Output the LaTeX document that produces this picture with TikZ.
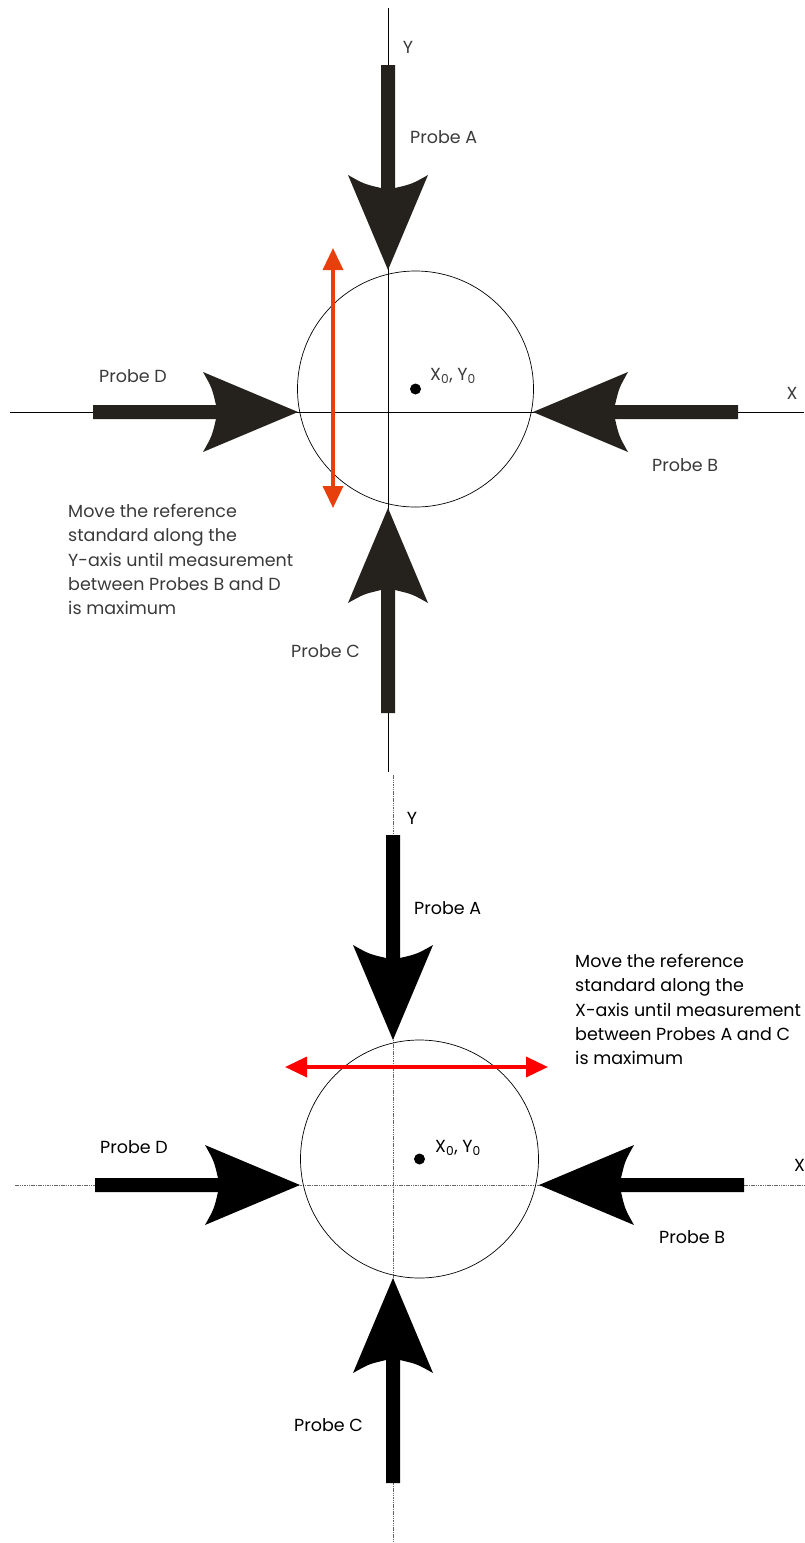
\documentclass[tikz,border=0pt]{standalone}
\usepackage{fontspec}
\setmainfont{Poppins}
\usetikzlibrary{arrows.meta,positioning}
\definecolor{probedark}{HTML}{25221D}
\definecolor{labelgray}{HTML}{3A3A3A}
\definecolor{moveorange}{HTML}{E8400C}
\tikzset{
  probe/.pic={
    % tip at the origin, pointing along +x
    \fill[pic actions] (0,0) -- (-95,40) .. controls (-86,24) .. (-82,7)
      -- (-205,7) -- (-205,-7) -- (-82,-7) .. controls (-86,-24) .. (-95,-40) -- cycle;
  },
  axis/.style={line width=0.6pt},
  dotaxis/.style={line width=1pt,black!60,dash pattern=on 1.5pt off 0.8pt},
  ring/.style={line width=0.7pt},
  lbl/.style={font=\fontsize{17.5}{24.3}\selectfont,inner sep=0pt},
  note/.style={lbl,align=left,anchor=north west},
  move/.style={line width=3.5pt,{Triangle[length=22pt,width=20pt]}-{Triangle[length=22pt,width=20pt]}},
}
\begin{document}
\begin{tikzpicture}[x=1pt,y=-1pt]
  \useasboundingbox (0,0) rectangle (804,1543);

  % upper picture: move along Y
  \begin{scope}[labelgray]
  \coordinate (c1) at (415.5,389);
  \draw[axis,black] (388,8) -- (388,772);
  \draw[axis,black] (10,412) -- (804,412);
  \draw[ring,black] (c1) circle[radius=118];
  \fill[black] (c1) circle[radius=5.5];
  \pic[fill=probedark,rotate=-90] at (388,270) {probe};
  \pic[fill=probedark,rotate=0] at (298,412) {probe};
  \pic[fill=probedark,rotate=180] at (533,412) {probe};
  \pic[fill=probedark,rotate=90] at (388,508) {probe};
  \coordinate (m1a) at (333,248);
  \coordinate (m1b) at (333,508);
  \draw[move,moveorange] (m1a) -- (m1b);
  \node[lbl] (y1) at (408,47) {Y};
  \node[lbl] (x1) at (792,393) {X};
  \node[lbl,anchor=west] (o1) at (430,376) {X\textsubscript{0}, Y\textsubscript{0}};
  \node[lbl,anchor=west] (pa1) at (410,137) {Probe A};
  \node[lbl,anchor=west] (pd1) at (99,376) {Probe D};
  \node[lbl,anchor=west] (pb1) at (652,465) {Probe B};
  \node[lbl,anchor=west] (pc1) at (291,651) {Probe C};
  \node[note] (n1) at (68,504) {Move the reference\\standard along the\\Y-axis until measurement\\between Probes B and D\\is maximum};
  \end{scope}

  % lower picture: move along X
  \coordinate (c2) at (419.5,1159);
  \draw[dotaxis] (393,775) -- (393,1543);
  \draw[dotaxis] (15,1185) -- (804,1185);
  \draw[ring] (c2) circle[radius=119];
  \fill (c2) circle[radius=5.5];
  \pic[fill=black,rotate=-90] at (393,1040) {probe};
  \pic[fill=black,rotate=0] at (300,1185) {probe};
  \pic[fill=black,rotate=180] at (539,1185) {probe};
  \pic[fill=black,rotate=90] at (393,1278) {probe};
  \coordinate (m2a) at (285,1067);
  \coordinate (m2b) at (548,1067);
  \draw[move,red] (m2a) -- (m2b);
  \node[lbl] (y2) at (412,818) {Y};
  \node[lbl,anchor=west] (x2) at (794,1165) {X};
  \node[lbl,anchor=west] (o2) at (435,1148) {X\textsubscript{0}, Y\textsubscript{0}};
  \node[lbl,anchor=west] (pa2) at (414,908) {Probe A};
  \node[lbl,anchor=west] (pd2) at (100,1147) {Probe D};
  \node[lbl,anchor=west] (pb2) at (659,1237) {Probe B};
  \node[lbl,anchor=west] (pc2) at (294,1425) {Probe C};
  \node[note] (n2) at (575,954) {Move the reference\\standard along the\\X-axis until measurement\\between Probes A and C\\is maximum};
\end{tikzpicture}
\end{document}
